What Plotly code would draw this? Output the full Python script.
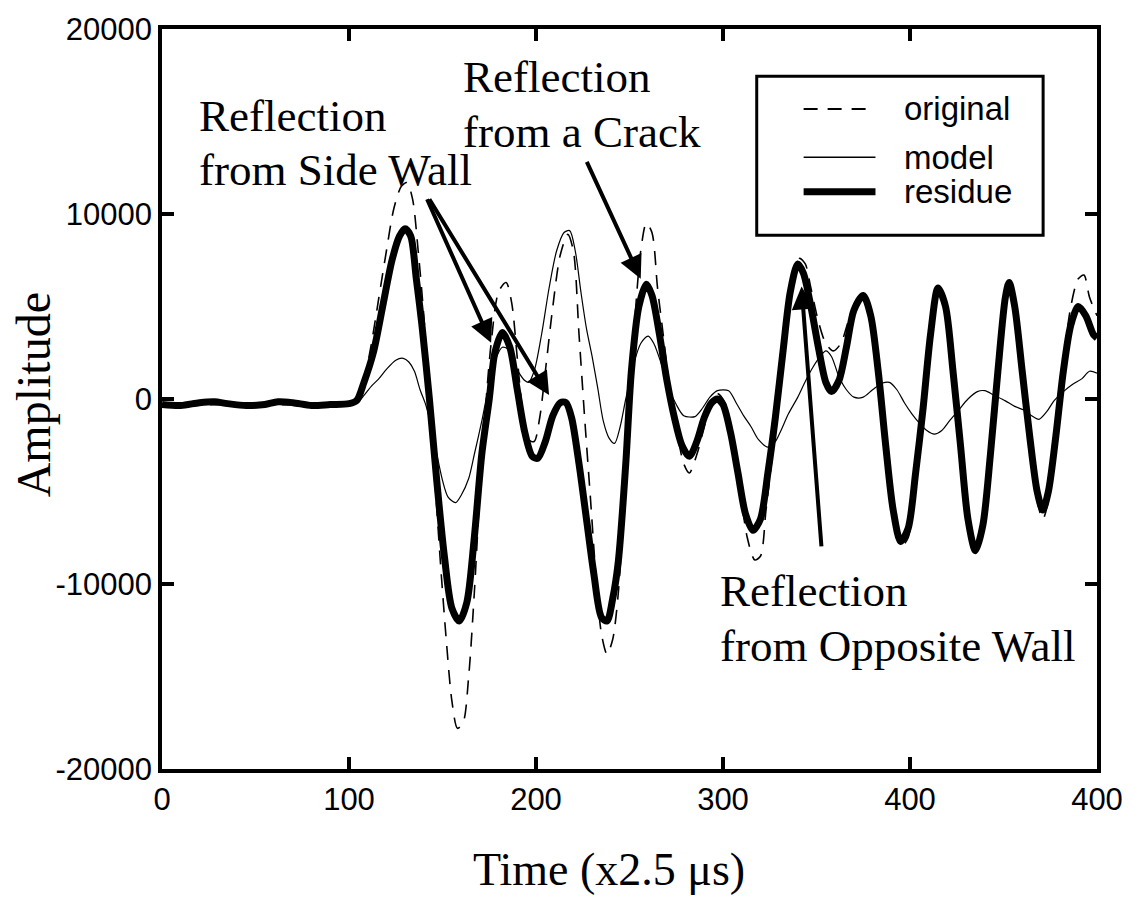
import plotly.graph_objects as go

# ---------------- data ----------------
time_residue = [0, 10, 20, 28, 35, 45, 55, 62, 70, 80, 90, 100, 104, 108, 113, 118, 123, 127, 130, 133,
                136, 139, 143, 147, 151, 155, 159, 163, 167, 171, 175, 178, 182, 186, 190, 194, 198, 201,
                205, 209, 213, 216, 219, 223, 227, 231, 235, 238, 241, 244, 248, 251, 255, 259, 262, 266,
                270, 274, 278, 282, 286, 290, 294, 297, 300, 304, 308, 312, 316, 320, 324, 328, 332, 336,
                340, 343, 347, 351, 355, 358, 362, 366, 370, 375, 379, 383, 387, 391, 395, 399, 403, 407,
                411, 415, 419, 423, 427, 431, 435, 439, 443, 447, 451, 453, 456, 460, 464, 468, 471, 474,
                478, 482, 486, 490, 494, 498, 500]
amp_residue = [-300, -350, -200, -150, -250, -350, -300, -150, -200, -350, -300, -250, -100, 900, 2500,
               5000, 7500, 8800, 9200, 8800, 6500, 4000, 0, -4500, -8500, -11300, -12000, -11000, -7500,
               -3000, 0, 2500, 3600, 2800, 500, -1800, -3100, -3200, -2300, -900, -200, -200, -1000,
               -3500, -6500, -9500, -11800, -12000, -10800, -8800, -3500, 1500, 5000, 6200, 5600, 3500,
               1000, -1000, -2500, -3100, -2300, -1000, -200, 0, -300, -1800, -4000, -6200, -7100, -6500,
               -4000, -1000, 2500, 5800, 7300, 6800, 5000, 2800, 900, 400, 1000, 2800, 4800, 5600, 4500,
               1500, -2500, -6000, -7700, -7000, -4000, -500, 3500, 6000, 5000, 1500, -2500, -6500, -8200,
               -6800, -3000, 1500, 5500, 6300, 5000, 1500, -2000, -5000, -6000, -5000, -2000, 1500, 4000,
               5000, 4500, 3500, 3300]

time_model = [0, 100, 105, 108, 112, 116, 120, 125, 129, 132, 135, 138, 141, 144, 147, 150, 153, 157,
              160, 164, 167, 171, 175, 179, 182, 185, 188, 191, 194, 196, 199, 203, 207, 211, 215, 218,
              221, 224, 227, 230, 233, 236, 239, 242, 245, 248, 252, 256, 260, 263, 267, 271, 275, 279,
              285, 289, 293, 297, 303, 307, 311, 315, 319, 324, 328, 331, 335, 340, 344, 348, 352, 355,
              358, 362, 366, 370, 375, 380, 385, 389, 393, 397, 401, 405, 409, 413, 417, 421, 426, 431,
              436, 440, 445, 451, 456, 461, 465, 469, 473, 477, 482, 487, 492, 496, 500]
amp_model = [-250, -250, -150, 200, 700, 1100, 1600, 2100, 2200, 2000, 1500, 500, -300, -1500, -3000,
             -4400, -5300, -5600, -5200, -4300, -3000, -1200, 800, 2300, 2800, 2700, 2000, 1400, 1000, 900,
             1500, 3500, 6000, 8000, 9000, 9100, 8000, 5800, 3800, 2300, 600, -1200, -2100, -2400, -1500,
             0, 1800, 3000, 3400, 3000, 1900, 600, -300, -900, -950, -500, 100, 450, 450, -200, -900,
             -1500, -2200, -2600, -2300, -1700, -800, 100, 950, 1700, 2300, 2600, 2300, 1200, 500, 100,
             100, 500, 850, 900, 500, -200, -800, -1300, -1700, -1900, -1700, -1200, -600, 0, 400, 450,
             200, -100, -400, -600, -900, -1100, -700, -100, 400, 800, 1100, 1500, 1400]

time_original = [0, 50, 100, 104, 108, 112, 116, 120, 124, 128, 131, 134, 137, 140, 143, 146, 149, 152,
                 155, 158, 161, 164, 167, 170, 173, 176, 180, 184, 187, 190, 193, 196, 199, 202, 205, 209,
                 213, 217, 220, 223, 226, 229, 232, 235, 238, 241, 244, 247, 250, 253, 256, 259, 262, 265,
                 268, 271, 275, 279, 282, 286, 290, 294, 297, 301, 305, 309, 313, 317, 320, 323, 327, 331,
                 335, 338, 341, 344, 347, 351, 355, 359, 363, 367, 371, 375, 379, 383, 387, 391, 395, 399,
                 403, 407, 411, 415, 419, 423, 427, 431, 435, 439, 443, 447, 451, 453, 456, 460, 464, 468,
                 471, 474, 478, 482, 486, 490, 493, 496, 500]
amp_original = [-300, -300, -250, -100, 1000, 3000, 5500, 8000, 10300, 11500, 11700, 10800, 8000, 4500, 0,
                -4500, -9000, -13000, -16300, -17800, -17500, -15000, -10500, -5000, -500, 3000, 5800,
                6300, 5200, 2200, -800, -2200, -2300, -1000, 1500, 5000, 7800, 8900, 8000, 3500, -1000,
                -5200, -9500, -12700, -13800, -13000, -10500, -5500, 0, 4500, 8000, 9500, 9000, 6000, 3500,
                1000, -1500, -3500, -4000, -3000, -1500, 0, 300, -200, -2000, -4800, -7500, -8700, -8500,
                -6000, -2500, 1500, 5000, 7000, 7600, 7300, 6000, 4200, 3000, 2600, 3000, 4200, 5300, 5700,
                4800, 2000, -2000, -5800, -8000, -7500, -4500, -1000, 3000, 5800, 4800, 1500, -2500, -6500,
                -8300, -7000, -3000, 1500, 5500, 6200, 5000, 1200, -2500, -5500, -6500, -5500, -2000, 2000,
                5000, 6500, 6700, 5500, 4500]

x_tick_values = [0, 100, 200, 300, 400, 500]
x_tick_labels = ["0", "100", "200", "300", "400", "400"]
y_tick_values = [-20000, -10000, 0, 10000, 20000]
y_tick_labels = ["-20000", "-10000", "0", "10000", "20000"]

series_names = ["original", "model", "residue"]

# annotation arrows: (tip time, tip amp, tail time, tail amp)
arrow_side1 = (176, 3040, 141.4, 10880)
arrow_side2 = (207, 213, 142.5, 10880)
arrow_crack = (256, 6500, 226.8, 12900)
arrow_opposite = (342, 6080, 352.7, -8050)

# ---------------- figure ----------------
W, H = 1135, 900
L, R, T, B = 162, 1099, 19, 769


def pxx(x):
    return (x - L) / (R - L)


def pxy(y):
    return (B - y) / (B - T)


SERIF = "Liberation Serif, Times New Roman, serif"
SANS = "Liberation Sans, Arial, sans-serif"

fig = go.Figure()
fig.add_trace(go.Scatter(x=time_original, y=amp_original, mode="lines", name=series_names[0],
                         line=dict(color="black", width=1.6, dash="14px,10px", shape="spline", smoothing=0.8)))
fig.add_trace(go.Scatter(x=time_model, y=amp_model, mode="lines", name=series_names[1],
                         line=dict(color="black", width=1.2, shape="spline", smoothing=0.8)))
fig.add_trace(go.Scatter(x=time_residue, y=amp_residue, mode="lines", name=series_names[2],
                         line=dict(color="black", width=7, shape="spline", smoothing=0.8)))

axis_common = dict(showline=True, linecolor="black", linewidth=3.5, mirror="ticks", ticks="inside",
                   ticklen=12, tickwidth=3.5, tickcolor="black", showgrid=False, zeroline=False,
                   tickfont=dict(family=SANS, size=31, color="black"))

fig.update_xaxes(range=[0, 500], tickmode="array", tickvals=x_tick_values, ticktext=x_tick_labels,
                 **axis_common)
fig.update_yaxes(range=[-20000, 20000], tickmode="array", tickvals=y_tick_values, ticktext=y_tick_labels,
                 **axis_common)

annotations = []
# axis titles
annotations.append(dict(text="Time (x2.5 μs)", xref="paper", yref="paper", x=pxx(610), y=pxy(871),
                        xanchor="center", yanchor="middle", showarrow=False,
                        font=dict(family=SERIF, size=46, color="black")))
annotations.append(dict(text="Amplitude", xref="paper", yref="paper", x=pxx(33), y=pxy(390),
                        xanchor="center", yanchor="middle", showarrow=False, textangle=-90,
                        font=dict(family=SERIF, size=48, color="black")))

# callout texts
callouts = [("Reflection", 197, 107), ("from Side Wall", 197, 162),
            ("Reflection", 462, 68), ("from a Crack", 462, 123),
            ("Reflection", 719, 589), ("from Opposite Wall", 719, 644)]
for txt, x0, yc in callouts:
    annotations.append(dict(text=txt, xref="paper", yref="paper", x=pxx(x0), y=pxy(yc),
                            xanchor="left", yanchor="middle", showarrow=False,
                            font=dict(family=SERIF, size=45, color="black")))

# arrows
for tip_x, tip_y, tail_x, tail_y in [arrow_side1, arrow_side2, arrow_crack, arrow_opposite]:
    annotations.append(dict(text="", x=tip_x, y=tip_y, ax=tail_x, ay=tail_y, xref="x", yref="y",
                            axref="x", ayref="y", showarrow=True, arrowhead=2, arrowsize=1.15,
                            arrowwidth=4, arrowcolor="black", standoff=0, startstandoff=0))

# legend (drawn)
shapes = []
shapes.append(dict(type="rect", xref="paper", yref="paper", x0=pxx(758), x1=pxx(1045), y0=pxy(67),
                   y1=pxy(228), line=dict(color="black", width=3), fillcolor="white", layer="above"))
legend_rows = [(series_names[0], 100, dict(color="black", width=2, dash="14px,10px")),
               (series_names[1], 149, dict(color="black", width=1.3)),
               (series_names[2], 184, dict(color="black", width=7))]
for name, yc, ln in legend_rows:
    shapes.append(dict(type="line", xref="paper", yref="paper", x0=pxx(805), x1=pxx(877), y0=pxy(yc),
                       y1=pxy(yc), line=ln, layer="above"))
    annotations.append(dict(text=name, xref="paper", yref="paper", x=pxx(904), y=pxy(yc),
                            xanchor="left", yanchor="middle", showarrow=False,
                            font=dict(family=SANS, size=33, color="black")))

fig.update_layout(width=W, height=H, margin=dict(l=L, r=W - R, t=T, b=H - B, pad=0),
                  paper_bgcolor="white", plot_bgcolor="white", showlegend=False,
                  annotations=annotations, shapes=shapes)

fig.write_html("out.html")
